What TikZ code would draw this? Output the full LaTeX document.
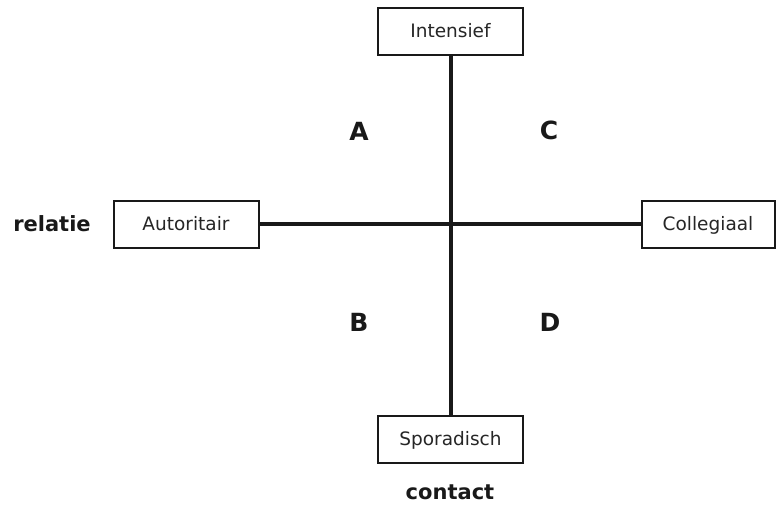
\documentclass[tikz,border=0pt]{standalone}
\usepackage{fontspec}
\setmainfont{DejaVu Sans}
\begin{document}
\begin{tikzpicture}[x=1pt,y=-1pt,
  box/.style={draw=black!90, line width=2pt, fill=white, minimum width=145pt, minimum height=47pt, inner sep=0pt, text height=16pt, text depth=2.5pt, font=\fontsize{18.5}{21}\selectfont, text=black!85},
  axis/.style={line width=4pt, draw=black!90},
  lbl/.style={font=\bfseries\fontsize{21}{24}\selectfont, text=black!90},
  quad/.style={font=\bfseries\fontsize{25}{28}\selectfont, text=black!90}]
\useasboundingbox (0,0) rectangle (776,504);
\node[box] (int) at (450.5,31) {Intensief};
\node[box] (spo) at (450.5,439) {Sporadisch};
\node[box] (aut) at (186,224) {Autoritair};
\node[box, minimum width=133pt] (col) at (708,224) {Collegiaal};
\draw[axis] (int.south) -- (spo.north);
\draw[axis] (aut.east) -- (col.west);
\node[lbl] (rel) at (52,224) {relatie};
\node[lbl] (con) at (450,492) {contact};
\node[quad] (A) at (359,131) {A};
\node[quad] (C) at (549,130) {C};
\node[quad] (B) at (359,322) {B};
\node[quad] (D) at (550,322) {D};
\end{tikzpicture}
\end{document}
